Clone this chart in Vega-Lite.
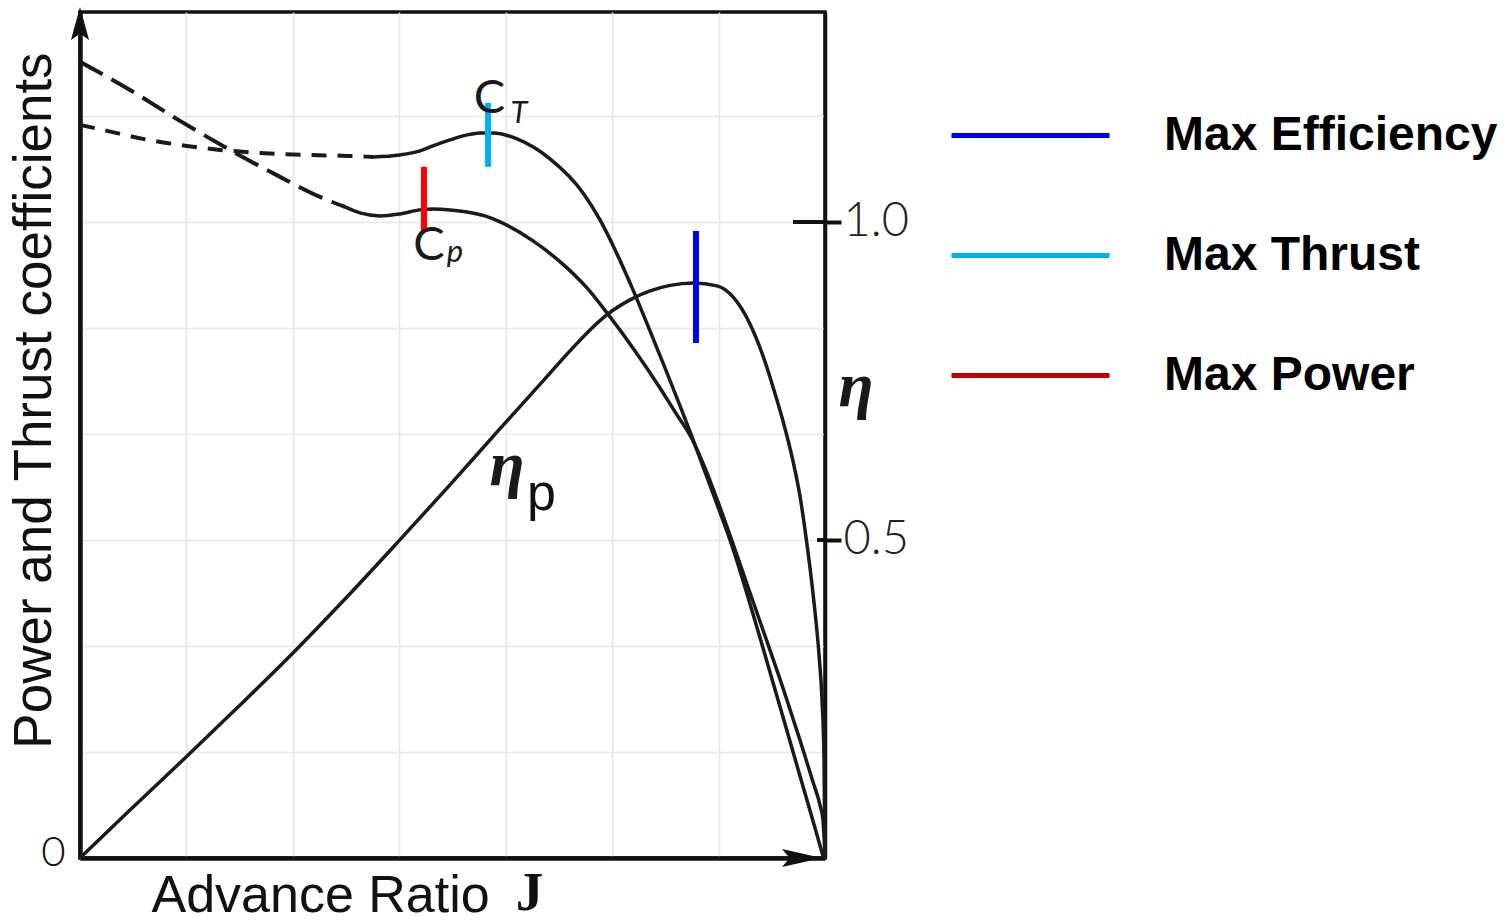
{
  "$schema": "https://vega.github.io/schema/vega-lite/v6.json",
  "width": 745,
  "height": 846,
  "autosize": {"type": "none"},
  "padding": {"left": 80, "top": 12, "right": 687, "bottom": 65},
  "background": "white",
  "config": {
    "font": "Liberation Sans",
    "view": {"stroke": "#111111", "strokeWidth": 3.5}
  },
  "datasets": {
    "curves": [
      {"series": "CP", "part": "dashed", "J": 0, "v": 1.2516},
      {"series": "CP", "part": "dashed", "J": 0.0671, "v": 1.2075},
      {"series": "CP", "part": "dashed", "J": 0.1342, "v": 1.1588},
      {"series": "CP", "part": "dashed", "J": 0.2013, "v": 1.1132},
      {"series": "CP", "part": "dashed", "J": 0.2685, "v": 1.0708},
      {"series": "CP", "part": "dashed", "J": 0.3221, "v": 1.0393},
      {"series": "CP", "part": "dashed", "J": 0.3557, "v": 1.0236},
      {"series": "CP", "part": "solid", "J": 0.3557, "v": 1.0236},
      {"series": "CP", "part": "solid", "J": 0.3758, "v": 1.0142},
      {"series": "CP", "part": "solid", "J": 0.4027, "v": 1.0094},
      {"series": "CP", "part": "solid", "J": 0.4295, "v": 1.0126},
      {"series": "CP", "part": "solid", "J": 0.4564, "v": 1.0189},
      {"series": "CP", "part": "solid", "J": 0.4738, "v": 1.0204},
      {"series": "CP", "part": "solid", "J": 0.4966, "v": 1.0189},
      {"series": "CP", "part": "solid", "J": 0.5195, "v": 1.0157},
      {"series": "CP", "part": "solid", "J": 0.5436, "v": 1.0094},
      {"series": "CP", "part": "solid", "J": 0.5638, "v": 1.0},
      {"series": "CP", "part": "solid", "J": 0.6081, "v": 0.9701},
      {"series": "CP", "part": "solid", "J": 0.6537, "v": 0.9277},
      {"series": "CP", "part": "solid", "J": 0.6805, "v": 0.8962},
      {"series": "CP", "part": "solid", "J": 0.7074, "v": 0.8569},
      {"series": "CP", "part": "solid", "J": 0.745, "v": 0.7972},
      {"series": "CP", "part": "solid", "J": 0.7785, "v": 0.739},
      {"series": "CP", "part": "solid", "J": 0.7987, "v": 0.7013},
      {"series": "CP", "part": "solid", "J": 0.8215, "v": 0.6588},
      {"series": "CP", "part": "solid", "J": 0.8389, "v": 0.6132},
      {"series": "CP", "part": "solid", "J": 0.8564, "v": 0.5597},
      {"series": "CP", "part": "solid", "J": 0.8752, "v": 0.4984},
      {"series": "CP", "part": "solid", "J": 0.8966, "v": 0.4261},
      {"series": "CP", "part": "solid", "J": 0.9195, "v": 0.3491},
      {"series": "CP", "part": "solid", "J": 0.9436, "v": 0.2673},
      {"series": "CP", "part": "solid", "J": 0.9664, "v": 0.1855},
      {"series": "CP", "part": "solid", "J": 0.9839, "v": 0.1195},
      {"series": "CP", "part": "solid", "J": 0.9933, "v": 0.0833},
      {"series": "CP", "part": "solid", "J": 0.9973, "v": 0.0597},
      {"series": "CP", "part": "solid", "J": 1.0, "v": 0.0031},
      {"series": "CT", "part": "dashed", "J": 0, "v": 1.1525},
      {"series": "CT", "part": "dashed", "J": 0.0362, "v": 1.1431},
      {"series": "CT", "part": "dashed", "J": 0.0846, "v": 1.1305},
      {"series": "CT", "part": "dashed", "J": 0.1436, "v": 1.1195},
      {"series": "CT", "part": "dashed", "J": 0.1879, "v": 1.1132},
      {"series": "CT", "part": "dashed", "J": 0.2416, "v": 1.1085},
      {"series": "CT", "part": "dashed", "J": 0.3047, "v": 1.1053},
      {"series": "CT", "part": "dashed", "J": 0.3584, "v": 1.1038},
      {"series": "CT", "part": "dashed", "J": 0.3933, "v": 1.1022},
      {"series": "CT", "part": "solid", "J": 0.3933, "v": 1.1022},
      {"series": "CT", "part": "solid", "J": 0.4295, "v": 1.1053},
      {"series": "CT", "part": "solid", "J": 0.4564, "v": 1.1116},
      {"series": "CT", "part": "solid", "J": 0.4738, "v": 1.1195},
      {"series": "CT", "part": "solid", "J": 0.4966, "v": 1.1289},
      {"series": "CT", "part": "solid", "J": 0.5195, "v": 1.1368},
      {"series": "CT", "part": "solid", "J": 0.5369, "v": 1.1399},
      {"series": "CT", "part": "solid", "J": 0.5544, "v": 1.1399},
      {"series": "CT", "part": "solid", "J": 0.5866, "v": 1.1305},
      {"series": "CT", "part": "solid", "J": 0.6309, "v": 1.0991},
      {"series": "CT", "part": "solid", "J": 0.6752, "v": 1.0456},
      {"series": "CT", "part": "solid", "J": 0.698, "v": 1.0031},
      {"series": "CT", "part": "solid", "J": 0.7208, "v": 0.9497},
      {"series": "CT", "part": "solid", "J": 0.7423, "v": 0.8931},
      {"series": "CT", "part": "solid", "J": 0.7651, "v": 0.8286},
      {"series": "CT", "part": "solid", "J": 0.7879, "v": 0.7626},
      {"series": "CT", "part": "solid", "J": 0.8054, "v": 0.7107},
      {"series": "CT", "part": "solid", "J": 0.8215, "v": 0.6619},
      {"series": "CT", "part": "solid", "J": 0.8389, "v": 0.6069},
      {"series": "CT", "part": "solid", "J": 0.8564, "v": 0.5519},
      {"series": "CT", "part": "solid", "J": 0.8752, "v": 0.4906},
      {"series": "CT", "part": "solid", "J": 0.8966, "v": 0.4104},
      {"series": "CT", "part": "solid", "J": 0.9195, "v": 0.3192},
      {"series": "CT", "part": "solid", "J": 0.9436, "v": 0.2217},
      {"series": "CT", "part": "solid", "J": 0.9664, "v": 0.1289},
      {"series": "CT", "part": "solid", "J": 0.9866, "v": 0.0472},
      {"series": "CT", "part": "solid", "J": 0.9973, "v": 0.0031},
      {"series": "eta", "part": "solid", "J": 0, "v": 0},
      {"series": "eta", "part": "solid", "J": 0.0671, "v": 0.0755},
      {"series": "eta", "part": "solid", "J": 0.1396, "v": 0.1557},
      {"series": "eta", "part": "solid", "J": 0.2107, "v": 0.2358},
      {"series": "eta", "part": "solid", "J": 0.2832, "v": 0.3192},
      {"series": "eta", "part": "solid", "J": 0.3557, "v": 0.4072},
      {"series": "eta", "part": "solid", "J": 0.4268, "v": 0.4969},
      {"series": "eta", "part": "solid", "J": 0.4966, "v": 0.5865},
      {"series": "eta", "part": "solid", "J": 0.5611, "v": 0.6714},
      {"series": "eta", "part": "solid", "J": 0.6228, "v": 0.7516},
      {"series": "eta", "part": "solid", "J": 0.6577, "v": 0.7972},
      {"series": "eta", "part": "solid", "J": 0.6846, "v": 0.8302},
      {"series": "eta", "part": "solid", "J": 0.7087, "v": 0.8553},
      {"series": "eta", "part": "solid", "J": 0.7383, "v": 0.8774},
      {"series": "eta", "part": "solid", "J": 0.7651, "v": 0.8915},
      {"series": "eta", "part": "solid", "J": 0.792, "v": 0.9002},
      {"series": "eta", "part": "solid", "J": 0.8228, "v": 0.9041},
      {"series": "eta", "part": "solid", "J": 0.855, "v": 0.8994},
      {"series": "eta", "part": "solid", "J": 0.8765, "v": 0.8821},
      {"series": "eta", "part": "solid", "J": 0.8993, "v": 0.8396},
      {"series": "eta", "part": "solid", "J": 0.9168, "v": 0.7893},
      {"series": "eta", "part": "solid", "J": 0.9302, "v": 0.7406},
      {"series": "eta", "part": "solid", "J": 0.9436, "v": 0.6871},
      {"series": "eta", "part": "solid", "J": 0.957, "v": 0.6242},
      {"series": "eta", "part": "solid", "J": 0.9664, "v": 0.5692},
      {"series": "eta", "part": "solid", "J": 0.9732, "v": 0.5157},
      {"series": "eta", "part": "solid", "J": 0.9799, "v": 0.456},
      {"series": "eta", "part": "solid", "J": 0.9866, "v": 0.3868},
      {"series": "eta", "part": "solid", "J": 0.992, "v": 0.3192},
      {"series": "eta", "part": "solid", "J": 0.996, "v": 0.2484},
      {"series": "eta", "part": "solid", "J": 0.9987, "v": 0.1541},
      {"series": "eta", "part": "solid", "J": 1.0, "v": 0}
    ],
    "markers": [
      {"marker": "Max Efficiency", "J": 0.8268, "lo": 0.8097, "hi": 0.9858},
      {"marker": "Max Thrust", "J": 0.5477, "lo": 1.0865, "hi": 1.187},
      {"marker": "Max Power", "J": 0.4617, "lo": 0.9858, "hi": 1.0865}
    ],
    "labels": [
      {"kind": "C", "label": "C", "J": 0.5497, "v": 1.1714},
      {"kind": "C", "label": "C", "J": 0.4685, "v": 0.9403},
      {"kind": "Csub", "label": "T", "J": 0.5893, "v": 1.1557},
      {"kind": "Csub", "label": "p", "J": 0.5034, "v": 0.9371},
      {"kind": "eta", "label": "η", "J": 0.5732, "v": 0.5865},
      {"kind": "eta", "label": "η", "J": 1.0416, "v": 0.7107},
      {"kind": "etasub", "label": "p", "J": 0.6195, "v": 0.5472},
      {"kind": "zero", "label": "0", "J": -0.0356, "v": -0.0126},
      {"kind": "J", "label": "J", "J": 0.6034, "v": -0.0818}
    ],
    "ticks": [
      {"eta": 1.0, "from": 0.957},
      {"eta": 0.5, "from": 0.9893}
    ]
  },
  "layer": [
    {
      "data": {"name": "curves"},
      "transform": [{"filter": "datum.part === 'solid'"}],
      "mark": {"type": "line", "interpolate": "monotone", "strokeWidth": 3.5, "color": "#1a1a1a", "strokeCap": "round", "strokeJoin": "round"},
      "encoding": {
        "x": {
          "field": "J", "type": "quantitative",
          "scale": {"domain": [0, 1], "nice": false, "zero": false},
          "axis": {
            "orient": "bottom",
            "values": [0.142857, 0.285714, 0.428571, 0.571429, 0.714286, 0.857143],
            "grid": true, "gridColor": "#e6e6e6", "gridWidth": 1.5,
            "ticks": false, "labels": false,
            "domainColor": "#111111", "domainWidth": 4.5,
            "title": "Advance Ratio",
            "titleFont": "Liberation Sans", "titleFontSize": 52, "titleFontWeight": "normal", "titleColor": "#111111",
            "titleAlign": "left", "titleBaseline": "alphabetic", "titleX": 71, "titleY": 53
          }
        },
        "y": {
          "field": "v", "type": "quantitative",
          "scale": {"domain": [0, 1.33], "nice": false, "zero": false},
          "axis": {
            "orient": "left",
            "values": [0.166667, 0.333333, 0.5, 0.666667, 0.833333, 1.0, 1.166667],
            "grid": true, "gridColor": "#e8e8e8", "gridWidth": 1.5,
            "ticks": false, "labels": false,
            "domainColor": "#111111", "domainWidth": 4.5,
            "title": "Power and Thrust coefficients",
            "titleFont": "Liberation Sans", "titleFontSize": 53, "titleFontWeight": "normal", "titleColor": "#111111",
            "titleAngle": -90, "titleAlign": "center", "titleBaseline": "alphabetic", "titleX": -30, "titleY": 388
          }
        },
        "detail": {"field": "series", "type": "nominal"}
      }
    },
    {
      "data": {"name": "curves"},
      "transform": [{"filter": "datum.part === 'dashed' && datum.series === 'CP'"}],
      "mark": {"type": "line", "interpolate": "monotone", "strokeWidth": 4, "color": "#1a1a1a", "strokeDash": [26, 10]},
      "encoding": {
        "x": {"field": "J", "type": "quantitative"},
        "y": {"field": "v", "type": "quantitative", "axis": null}
      }
    },
    {
      "data": {"name": "curves"},
      "transform": [{"filter": "datum.part === 'dashed' && datum.series === 'CT'"}],
      "mark": {"type": "line", "interpolate": "monotone", "strokeWidth": 4, "color": "#1a1a1a", "strokeDash": [15, 11]},
      "encoding": {
        "x": {"field": "J", "type": "quantitative"},
        "y": {"field": "v", "type": "quantitative", "axis": null}
      }
    },
    {
      "data": {"name": "ticks"},
      "mark": {"type": "rule", "strokeWidth": 4, "color": "#111111"},
      "encoding": {
        "x": {"field": "from", "type": "quantitative"},
        "x2": {"datum": 1},
        "y": {
          "field": "eta", "type": "quantitative",
          "axis": {
            "orient": "right",
            "values": [0.5, 1.0], "format": ".1f",
            "grid": false, "title": null,
            "domainColor": "#111111", "domainWidth": 3.5,
            "tickSize": 16, "tickWidth": 4, "tickColor": "#111111",
            "labelFont": "Lato", "labelFontWeight": 300, "labelFontSize": 47, "labelColor": "#222222",
            "labelPadding": 2, "labelBaseline": "middle"
          }
        }
      }
    },
    {
      "data": {"name": "markers"},
      "mark": {"type": "rule", "strokeWidth": 6},
      "encoding": {
        "x": {"field": "J", "type": "quantitative"},
        "y": {"field": "lo", "type": "quantitative", "axis": null},
        "y2": {"field": "hi"},
        "color": {
          "condition": {"test": "datum.marker === 'Max Power'", "value": "#ff0000"},
          "field": "marker", "type": "nominal",
          "scale": {"domain": ["Max Efficiency", "Max Thrust", "Max Power"], "range": ["#0000ee", "#00b0f0", "#c00000"]},
          "legend": {
            "title": null, "orient": "none", "legendX": 869, "legendY": 42,
            "symbolType": "stroke", "symbolSize": 24964, "symbolStrokeWidth": 5,
            "labelFont": "Liberation Sans", "labelFontSize": 48, "labelFontWeight": "bold", "labelColor": "#000000",
            "labelOffset": 52, "labelLimit": 0, "rowPadding": 14, "padding": 0
          }
        }
      }
    },
    {
      "data": {"values": [{}]},
      "mark": {"type": "point", "shape": "M0,-1L0.55,1L0,0.62L-0.55,1Z", "filled": true, "color": "#111111", "size": 1089, "opacity": 1},
      "encoding": {
        "x": {"datum": 0, "type": "quantitative"},
        "y": {"datum": 1.312, "type": "quantitative", "axis": null}
      }
    },
    {
      "data": {"values": [{}]},
      "mark": {"type": "point", "shape": "M1,0L-1,0.45L-0.62,0L-1,-0.45Z", "filled": true, "color": "#111111", "size": 1600, "opacity": 1},
      "encoding": {
        "x": {"datum": 0.9691, "type": "quantitative"},
        "y": {"datum": 0, "type": "quantitative", "axis": null}
      }
    },
    {
      "data": {"name": "labels"},
      "transform": [{"filter": "datum.kind === 'C'"}],
      "mark": {"type": "text", "font": "Lato", "fontWeight": 400, "fontSize": 47, "align": "center", "baseline": "alphabetic", "color": "#1a1a1a"},
      "encoding": {
        "x": {"field": "J", "type": "quantitative"},
        "y": {"field": "v", "type": "quantitative", "axis": null},
        "text": {"field": "label"}
      }
    },
    {
      "data": {"name": "labels"},
      "transform": [{"filter": "datum.kind === 'Csub'"}],
      "mark": {"type": "text", "font": "Lato", "fontWeight": 400, "fontStyle": "italic", "fontSize": 31, "align": "center", "baseline": "alphabetic", "color": "#1a1a1a"},
      "encoding": {
        "x": {"field": "J", "type": "quantitative"},
        "y": {"field": "v", "type": "quantitative", "axis": null},
        "text": {"field": "label"}
      }
    },
    {
      "data": {"name": "labels"},
      "transform": [{"filter": "datum.kind === 'eta'"}],
      "mark": {"type": "text", "font": "Liberation Serif", "fontStyle": "italic", "fontWeight": "bold", "fontSize": 64, "align": "center", "baseline": "alphabetic", "color": "#1a1a1a"},
      "encoding": {
        "x": {"field": "J", "type": "quantitative"},
        "y": {"field": "v", "type": "quantitative", "axis": null},
        "text": {"field": "label"}
      }
    },
    {
      "data": {"name": "labels"},
      "transform": [{"filter": "datum.kind === 'etasub'"}],
      "mark": {"type": "text", "font": "Liberation Sans", "fontSize": 52, "align": "center", "baseline": "alphabetic", "color": "#111111"},
      "encoding": {
        "x": {"field": "J", "type": "quantitative"},
        "y": {"field": "v", "type": "quantitative", "axis": null},
        "text": {"field": "label"}
      }
    },
    {
      "data": {"name": "labels"},
      "transform": [{"filter": "datum.kind === 'zero'"}],
      "mark": {"type": "text", "font": "Lato", "fontWeight": 300, "fontSize": 42, "align": "center", "baseline": "alphabetic", "color": "#111111"},
      "encoding": {
        "x": {"field": "J", "type": "quantitative"},
        "y": {"field": "v", "type": "quantitative", "axis": null},
        "text": {"field": "label"}
      }
    },
    {
      "data": {"name": "labels"},
      "transform": [{"filter": "datum.kind === 'J'"}],
      "mark": {"type": "text", "font": "Liberation Serif", "fontWeight": "bold", "fontSize": 55, "align": "center", "baseline": "alphabetic", "color": "#111111"},
      "encoding": {
        "x": {"field": "J", "type": "quantitative"},
        "y": {"field": "v", "type": "quantitative", "axis": null},
        "text": {"field": "label"}
      }
    }
  ],
  "resolve": {"axis": {"x": "shared", "y": "independent"}}
}
